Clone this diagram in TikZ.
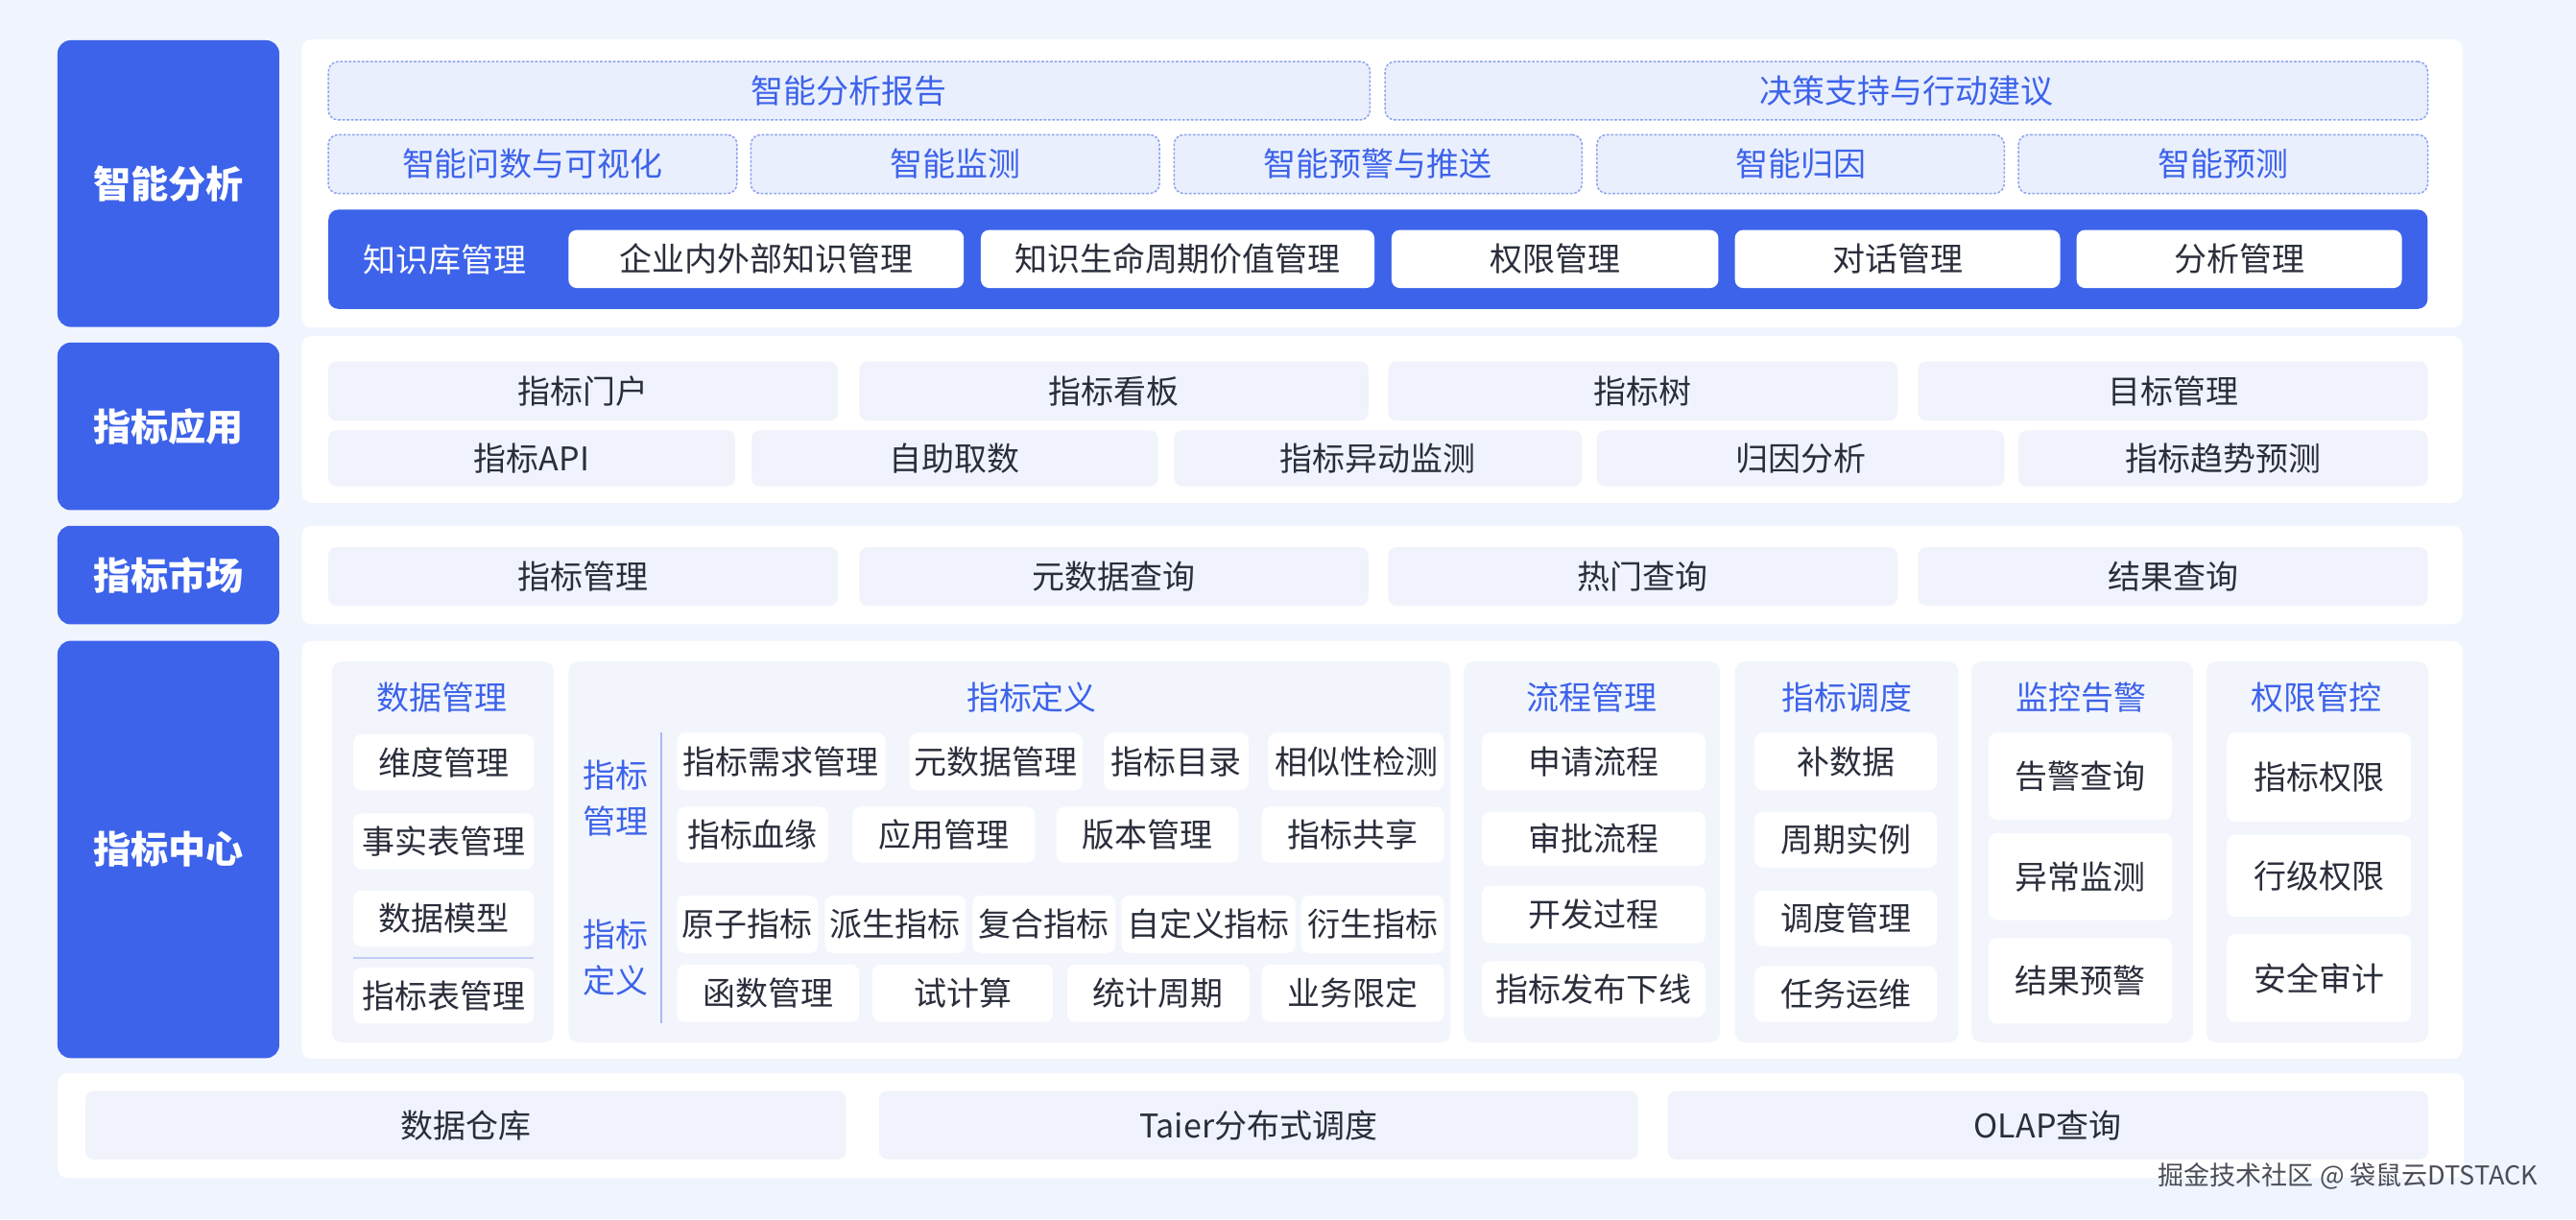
\documentclass[tikz,border=0pt]{standalone}
\usepackage{fontspec}
\setmainfont{Noto Sans CJK SC}
\usepackage{tikz}
\definecolor{paper}{HTML}{F0F4FD}
\definecolor{brand}{HTML}{3D63EA}
\definecolor{tilec}{HTML}{F0F3FB}
\definecolor{subc}{HTML}{F2F5FC}
\definecolor{dashfill}{HTML}{E9EFFD}
\definecolor{dashline}{HTML}{8EA3EE}
\definecolor{ink}{HTML}{2A2E3B}
\definecolor{rule}{HTML}{A9B9F2}
\newcommand{\bodyfont}{\fontsize{11.3}{14}\selectfont}
% box from its corners: style, name, x1, y1, x2, y2, text
\newcommand{\cellbox}[7]{%
  \node[#1, minimum width={(#5-#3)*0.2mm}, minimum height={(#6-#4)*0.2mm}]
    (#2) at ({(#3+#5)/2},{(#4+#6)/2}) {#7};}

\begin{document}
\begin{tikzpicture}[
    x=0.02cm, y=-0.02cm,
    lane/.style={fill=brand,rounded corners=1.6mm,text=white,inner sep=1pt,
      font=\fontsize{13}{15}\selectfont\bfseries},
    panel/.style={fill=white,rounded corners=1.2mm,inner sep=0pt},
    subpanel/.style={fill=subc,rounded corners=1.2mm,inner sep=0pt},
    dashbox/.style={fill=dashfill,draw=dashline,line width=0.5pt,dash pattern=on 0.9pt off 0.6pt,
      rounded corners=1.2mm,text=brand,inner sep=1pt,font=\bodyfont},
    tile/.style={fill=tilec,rounded corners=1mm,text=ink,inner sep=1pt,font=\bodyfont},
    wtile/.style={fill=white,rounded corners=1mm,text=ink,inner sep=1pt,font=\bodyfont},
    kbar/.style={fill=brand,rounded corners=1.2mm,inner sep=0pt},
    head/.style={text=brand,font=\bodyfont},
    side/.style={text=brand,align=center,font=\fontsize{11.3}{16}\selectfont},
    wmark/.style={text=ink!85,font=\fontsize{9}{11}\selectfont},
  ]
  \fill[paper] (0,0) rectangle (1568,742);
  \useasboundingbox (0,0) rectangle (1568,742);

  % layer labels
  \cellbox{lane}{laneAI}{35}{24.5}{170}{199}{智能分析}
  \cellbox{lane}{laneApp}{35}{208.5}{170}{310.5}{指标应用}
  \cellbox{lane}{laneMkt}{35}{320}{170}{380}{指标市场}
  \cellbox{lane}{laneCtr}{35}{390}{170}{644}{指标中心}

  % white panels
  \cellbox{panel}{pAI}{183.5}{24}{1499}{199.5}{}
  \cellbox{panel}{pApp}{183.5}{204.5}{1499}{306}{}
  \cellbox{panel}{pMkt}{183.5}{320}{1499}{380}{}
  \cellbox{panel}{pCtr}{183.5}{390}{1499}{644.5}{}
  \cellbox{panel}{pBase}{35}{653}{1500}{717}{}

  % intelligent analysis
  \foreach \nm/\xa/\xb/\txt in {ai1/199.8/834/智能分析报告, ai2/843/1477.8/决策支持与行动建议}
    {\cellbox{dashbox}{\nm}{\xa}{37.5}{\xb}{73}{\txt}}
  \foreach \nm/\xa/\xb/\txt in {ai3/199.8/448.6/智能问数与可视化, ai4/457/705.8/智能监测,
      ai5/714.6/963/智能预警与推送, ai6/972/1220/智能归因, ai7/1228.6/1477.8/智能预测}
    {\cellbox{dashbox}{\nm}{\xa}{82}{\xb}{117.8}{\txt}}
  \cellbox{kbar}{kb}{199.8}{127.6}{1477.8}{188}{}
  \node[text=white,font=\bodyfont] (kbName) at (271,158) {知识库管理};
  \foreach \nm/\xa/\xb/\txt in {kb1/346/586.7/企业内外部知识管理, kb2/597/836.6/知识生命周期价值管理,
      kb3/847/1046/权限管理, kb4/1056/1254/对话管理, kb5/1264/1462/分析管理}
    {\cellbox{wtile}{\nm}{\xa}{140}{\xb}{175.3}{\txt}}

  % applications
  \foreach \nm/\xa/\xb/\txt in {ap1/199.8/510/指标门户, ap2/523/833/指标看板,
      ap3/845/1155/指标树, ap4/1167.5/1477.8/目标管理}
    {\cellbox{tile}{\nm}{\xa}{220}{\xb}{256}{\txt}}
  \foreach \nm/\xa/\xb/\txt in {ap5/199.8/447.5/指标API, ap6/457.5/705/自助取数,
      ap7/714.6/963/指标异动监测, ap8/972/1220/归因分析, ap9/1228.6/1477.8/指标趋势预测}
    {\cellbox{tile}{\nm}{\xa}{262}{\xb}{296}{\txt}}

  % market
  \foreach \nm/\xa/\xb/\txt in {mk1/199.8/510/指标管理, mk2/523/833/元数据查询,
      mk3/845/1155/热门查询, mk4/1167.5/1477.8/结果查询}
    {\cellbox{tile}{\nm}{\xa}{333}{\xb}{368.6}{\txt}}

  % metric center: sub panels
  \foreach \nm/\xa/\xb/\txt/\hx in {sData/202/337/数据管理/269, sDef/346/883/指标定义/628,
      sFlow/891/1047/流程管理/969, sSched/1056/1192/指标调度/1124,
      sMon/1200/1335/监控告警/1267, sPerm/1343/1478/权限管控/1410}
    {\cellbox{subpanel}{\nm}{\xa}{402.6}{\xb}{634.5}{}
     \node[head] (\nm Head) at (\hx,424.7) {\txt};}

  % data management
  \foreach \nm/\ya/\yb/\txt in {dm1/447/481/维度管理, dm2/495/529/事实表管理,
      dm3/542/576/数据模型, dm4/589/623/指标表管理}
    {\cellbox{wtile}{\nm}{215}{\ya}{325}{\yb}{\txt}}
  \coordinate (sepL) at (215,583);
  \coordinate (sepR) at (325,583);
  \draw[rule!70,line width=0.6pt] (sepL) -- (sepR);

  % metric definition
  \node[side] (sideMgmt) at (375,486) {指标\\管理};
  \node[side] (sideDef) at (375,583) {指标\\定义};
  \coordinate (vTop) at (402.5,446);
  \coordinate (vBot) at (402.5,623);
  \draw[rule,line width=0.6pt] (vTop) -- (vBot);
  \foreach \nm/\xa/\xb/\txt in {da1/412/539/指标需求管理, da2/553.5/659/元数据管理,
      da3/672/760/指标目录, da4/772/879/相似性检测}
    {\cellbox{wtile}{\nm}{\xa}{446}{\xb}{481}{\txt}}
  \foreach \nm/\xa/\xb/\txt in {db1/412/504/指标血缘, db2/519/630/应用管理,
      db3/643/754/版本管理, db4/768/879/指标共享}
    {\cellbox{wtile}{\nm}{\xa}{491}{\xb}{525}{\txt}}
  \foreach \nm/\xa/\xb/\txt in {dc1/412/498/原子指标, dc2/502/588/派生指标,
      dc3/592/679/复合指标, dc4/682.5/788.5/自定义指标, dc5/792/879/衍生指标}
    {\cellbox{wtile}{\nm}{\xa}{545}{\xb}{580}{\txt}}
  \foreach \nm/\xa/\xb/\txt in {dd1/412/523/函数管理, dd2/531/641/试计算,
      dd3/649.5/760.5/统计周期, dd4/768/879/业务限定}
    {\cellbox{wtile}{\nm}{\xa}{587}{\xb}{622}{\txt}}

  % process, scheduling, monitoring, permissions
  \foreach \nm/\ya/\yb/\txt in {fl1/446/481/申请流程, fl2/494/527/审批流程,
      fl3/539/574/开发过程, fl4/585/619/指标发布下线}
    {\cellbox{wtile}{\nm}{902}{\ya}{1038}{\yb}{\txt}}
  \foreach \nm/\ya/\yb/\txt in {sc1/446/481/补数据, sc2/494/528/周期实例,
      sc3/542/576/调度管理, sc4/588/622/任务运维}
    {\cellbox{wtile}{\nm}{1068}{\ya}{1179}{\yb}{\txt}}
  \foreach \nm/\ya/\yb/\txt in {mo1/446/499/告警查询, mo2/507/560/异常监测, mo3/571/623/结果预警}
    {\cellbox{wtile}{\nm}{1210.5}{\ya}{1322}{\yb}{\txt}}
  \foreach \nm/\ya/\yb/\txt in {pm1/446/500/指标权限, pm2/508/558/行级权限, pm3/568.5/622/安全审计}
    {\cellbox{wtile}{\nm}{1355.5}{\ya}{1467.5}{\yb}{\txt}}

  % base
  \foreach \nm/\xa/\xb/\txt in {bs1/52/515/数据仓库, bs2/535/997/Taier分布式调度, bs3/1015/1478/OLAP查询}
    {\cellbox{tile}{\nm}{\xa}{664}{\xb}{705.6}{\txt}}

  \node[wmark,anchor=east] (wm) at (1551,716) {掘金技术社区 @ 袋鼠云DTSTACK};
\end{tikzpicture}
\end{document}
